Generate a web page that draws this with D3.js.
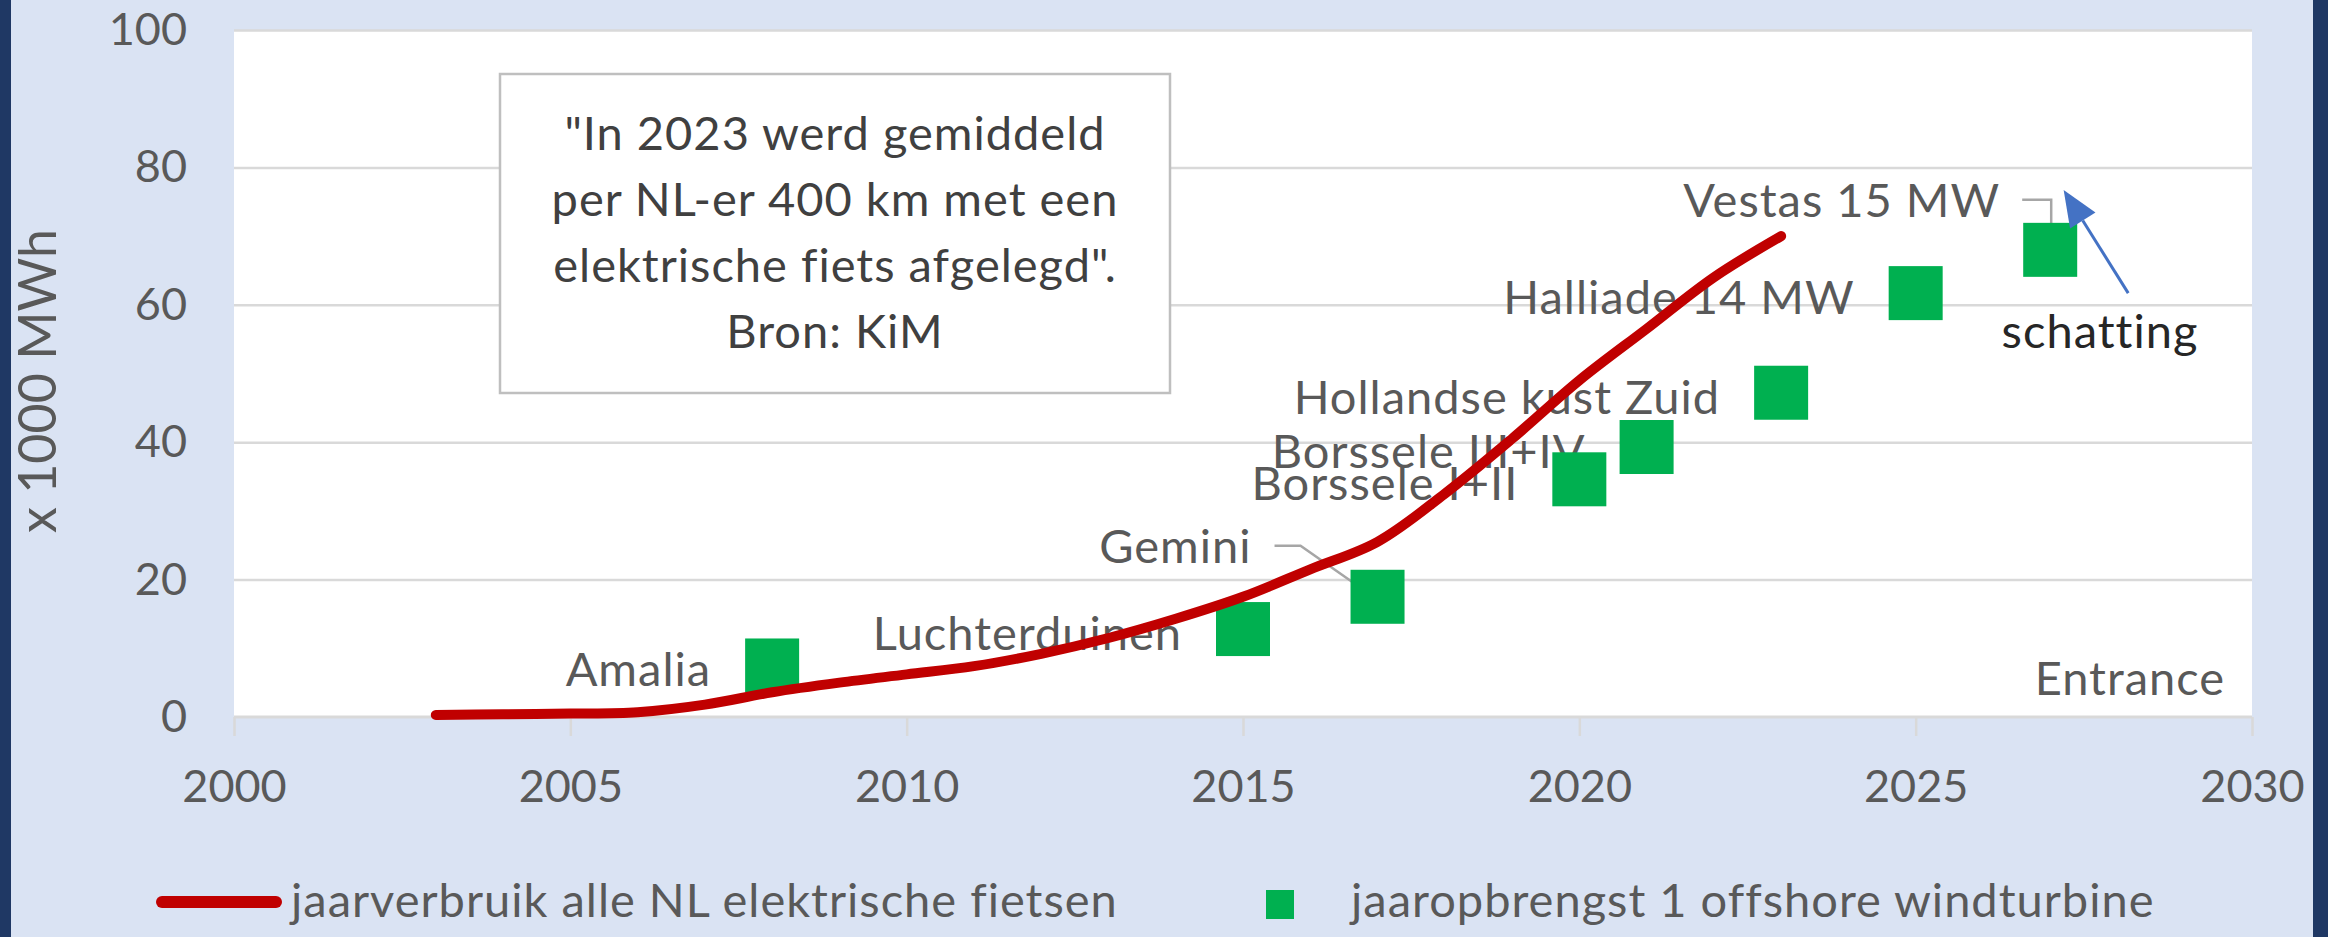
<!DOCTYPE html>
<html>
<head>
<meta charset="utf-8">
<script src="https://cdnjs.cloudflare.com/ajax/libs/d3/7.8.5/d3.min.js"></script>
<style>
  html, body { margin: 0; padding: 0; background: #DAE3F3; }
  svg { display: block; font-family: Lato, sans-serif; }
  .lbl { font-size: 47px; letter-spacing: 1px; }
</style>
</head>
<body>
<svg id="chart" width="2328" height="937"></svg>
<script>
// jaarverbruik alle NL elektrische fietsen (x 1000 MWh)
var fietsJaren = [2003, 2004, 2005, 2006, 2007, 2008, 2009, 2010, 2011, 2012, 2013,
                  2014, 2015, 2016, 2017, 2018, 2019, 2020, 2021, 2022, 2023];
var fietsVerbruik = [0.3, 0.4, 0.5, 0.7, 1.8, 3.6, 5.0, 6.2, 7.4, 9.2, 11.5,
                     14.3, 17.5, 21.5, 25.5, 32.5, 40.5, 49.0, 56.5, 64.0, 70.0];

// jaaropbrengst 1 offshore windturbine
var windJaren = [2008, 2015, 2017, 2020, 2021, 2023, 2025, 2027];
var windOpbrengst = [7.5, 12.8, 17.5, 34.6, 39.3, 47.2, 61.7, 68.0];
var windNamen = ["Amalia", "Luchterduinen", "Gemini", "Borssele I+II", "Borssele III+IV",
                 "Hollandse kust Zuid", "Halliade 14 MW", "Vestas 15 MW"];

var xTicks = [2000, 2005, 2010, 2015, 2020, 2025, 2030];
var yTicks = [0, 20, 40, 60, 80, 100];

var seriesNames = ["jaarverbruik alle NL elektrische fietsen", "jaaropbrengst 1 offshore windturbine"];
var boxLines = ['"In 2023 werd gemiddeld', 'per NL-er 400 km met een',
                'elektrische fiets afgelegd".', 'Bron: KiM'];

var W = 2328, H = 937;
var m = { left: 234, right: 2252, top: 30, bottom: 717 };
var grey = "#595959";

var svg = d3.select("#chart");

// background + dark side bands
svg.append("rect").attr("width", W).attr("height", H).attr("fill", "#DAE3F3");
svg.append("rect").attr("x", 0).attr("width", 11).attr("height", H).attr("fill", "#1F3864");
svg.append("rect").attr("x", 2313).attr("width", 15).attr("height", H).attr("fill", "#1F3864");

var x = d3.scaleLinear().domain([2000, 2030]).range([m.left, m.right]);
var y = d3.scaleLinear().domain([0, 100]).range([m.bottom, m.top]);

// plot area
svg.append("rect")
    .attr("x", m.left).attr("y", m.top)
    .attr("width", m.right - m.left).attr("height", m.bottom - m.top)
    .attr("fill", "#fff");

// gridlines
var grid = svg.append("g")
    .attr("transform", "translate(" + m.left + ",0)")
    .call(d3.axisLeft(y).tickValues(yTicks.slice(1)).tickSize(-(m.right - m.left)).tickFormat(""));
grid.select(".domain").remove();
grid.selectAll("line").attr("stroke", "#D9D9D9").attr("stroke-width", 2.5);

// x axis
var xAxis = svg.append("g")
    .attr("transform", "translate(0," + m.bottom + ")")
    .call(d3.axisBottom(x).tickValues(xTicks).tickSize(19).tickPadding(34).tickFormat(d3.format("d")));
xAxis.select(".domain").attr("stroke", "#D9D9D9").attr("stroke-width", 3)
    .attr("d", "M" + m.left + ",0H" + m.right);
xAxis.selectAll("line").attr("stroke", "#D9D9D9").attr("stroke-width", 2.5);
xAxis.selectAll("text").attr("fill", grey).style("font-size", "45px").style("font-family", "Lato, sans-serif");

// y axis labels
var yAxis = svg.append("g")
    .attr("transform", "translate(" + m.left + ",0)")
    .call(d3.axisLeft(y).tickValues(yTicks).tickSize(0).tickPadding(47));
yAxis.select(".domain").remove();
yAxis.selectAll("text").attr("fill", grey).style("font-size", "45px").style("font-family", "Lato, sans-serif");

// y axis title
svg.append("text")
    .attr("transform", "translate(56,381) rotate(-90)")
    .attr("text-anchor", "middle")
    .attr("fill", grey)
    .style("font-size", "52px")
    .text("x 1000 MWh");

// text box
var box = svg.append("g");
box.append("rect")
    .attr("x", 500).attr("y", 74).attr("width", 670).attr("height", 319)
    .attr("fill", "#fff").attr("stroke", "#BFBFBF").attr("stroke-width", 2.5);
box.selectAll("text.box").data(boxLines).join("text")
    .attr("class", "box lbl")
    .attr("x", 835)
    .attr("y", function(d, i) { return 150 + i * 66; })
    .attr("text-anchor", "middle")
    .attr("fill", "#404040")
    .text(function(d) { return d; });

var wind = windJaren.map(function(d, i) {
    return { jaar: d, v: windOpbrengst[i], naam: windNamen[i] };
});

// data labels (Gemini and Vestas were dragged away, with leader lines)
var sq = 54;
var shift = { "Gemini": [-65, -55], "Vestas 15 MW": [11, -54] };
var labels = svg.append("g");
labels.selectAll("text").data(wind).join("text")
    .attr("class", "lbl")
    .attr("x", function(d) { return x(d.jaar) - sq / 2 - 34 + (shift[d.naam] ? shift[d.naam][0] : 0); })
    .attr("y", function(d) { return y(d.v) + 21 + (shift[d.naam] ? shift[d.naam][1] : 0); })
    .attr("text-anchor", "end")
    .attr("fill", grey)
    .text(function(d) { return d.naam; });

// leader lines
var gem = wind[2], ves = wind[7];
svg.append("path")
    .attr("d", "M" + (x(gem.jaar) - 103) + "," + (y(gem.v) - 51) +
               "h26L" + (x(gem.jaar) + 3) + "," + (y(gem.v) + 5))
    .attr("fill", "none").attr("stroke", "#A6A6A6").attr("stroke-width", 2.5);
svg.append("path")
    .attr("d", "M" + (x(ves.jaar) - 28) + "," + (y(ves.v) - 50) +
               "H" + (x(ves.jaar) + 1) + "V" + (y(ves.v) + 3))
    .attr("fill", "none").attr("stroke", "#A6A6A6").attr("stroke-width", 2.5);

// "Entrance" label (its point lies beyond the axis)
svg.append("text")
    .attr("class", "lbl")
    .attr("x", x(2029.6)).attr("y", y(3.2))
    .attr("text-anchor", "end")
    .attr("fill", grey)
    .text("Entrance");

// wind squares
svg.append("g").selectAll("rect").data(wind).join("rect")
    .attr("x", function(d) { return x(d.jaar) - sq / 2; })
    .attr("y", function(d) { return y(d.v) - sq / 2; })
    .attr("width", sq).attr("height", sq)
    .attr("fill", "#00B050");

// e-bike line
var line = d3.line()
    .x(function(d, i) { return x(fietsJaren[i]); })
    .y(function(d) { return y(d); })
    .curve(d3.curveCatmullRom.alpha(0.5));
svg.append("path")
    .datum(fietsVerbruik)
    .attr("d", line)
    .attr("fill", "none")
    .attr("stroke", "#C00000")
    .attr("stroke-width", 10)
    .attr("stroke-linecap", "round");

// "schatting" arrow
var ax0 = x(2028.16), ay0 = y(61.7), ax1 = x(2027.2), ay1 = y(76.7);
var ang = Math.atan2(ay1 - ay0, ax1 - ax0);
var hl = 36, hw = 15;
var bx = ax1 - hl * Math.cos(ang), by = ay1 - hl * Math.sin(ang);
svg.append("line")
    .attr("x1", ax0).attr("y1", ay0).attr("x2", bx).attr("y2", by)
    .attr("stroke", "#4472C4").attr("stroke-width", 3);
svg.append("path")
    .attr("d", "M" + ax1 + "," + ay1 +
               "L" + (bx + hw * Math.sin(ang)) + "," + (by - hw * Math.cos(ang)) +
               "L" + (bx - hw * Math.sin(ang)) + "," + (by + hw * Math.cos(ang)) + "Z")
    .attr("fill", "#4472C4");
svg.append("text")
    .attr("class", "lbl")
    .attr("x", x(2027.74)).attr("y", y(53.7))
    .attr("text-anchor", "middle")
    .attr("fill", "#262626")
    .text("schatting");

// legend
var leg = svg.append("g");
leg.append("line")
    .attr("x1", 162).attr("x2", 276).attr("y1", 902).attr("y2", 902)
    .attr("stroke", "#C00000").attr("stroke-width", 12).attr("stroke-linecap", "round");
leg.append("text").attr("class", "lbl").attr("x", 291).attr("y", 917).attr("fill", grey)
    .text(seriesNames[0]);
leg.append("rect").attr("x", 1266).attr("y", 890).attr("width", 28).attr("height", 29)
    .attr("fill", "#00B050");
leg.append("text").attr("class", "lbl").attr("x", 1351).attr("y", 917).attr("fill", grey)
    .text(seriesNames[1]);
</script>
</body>
</html>
